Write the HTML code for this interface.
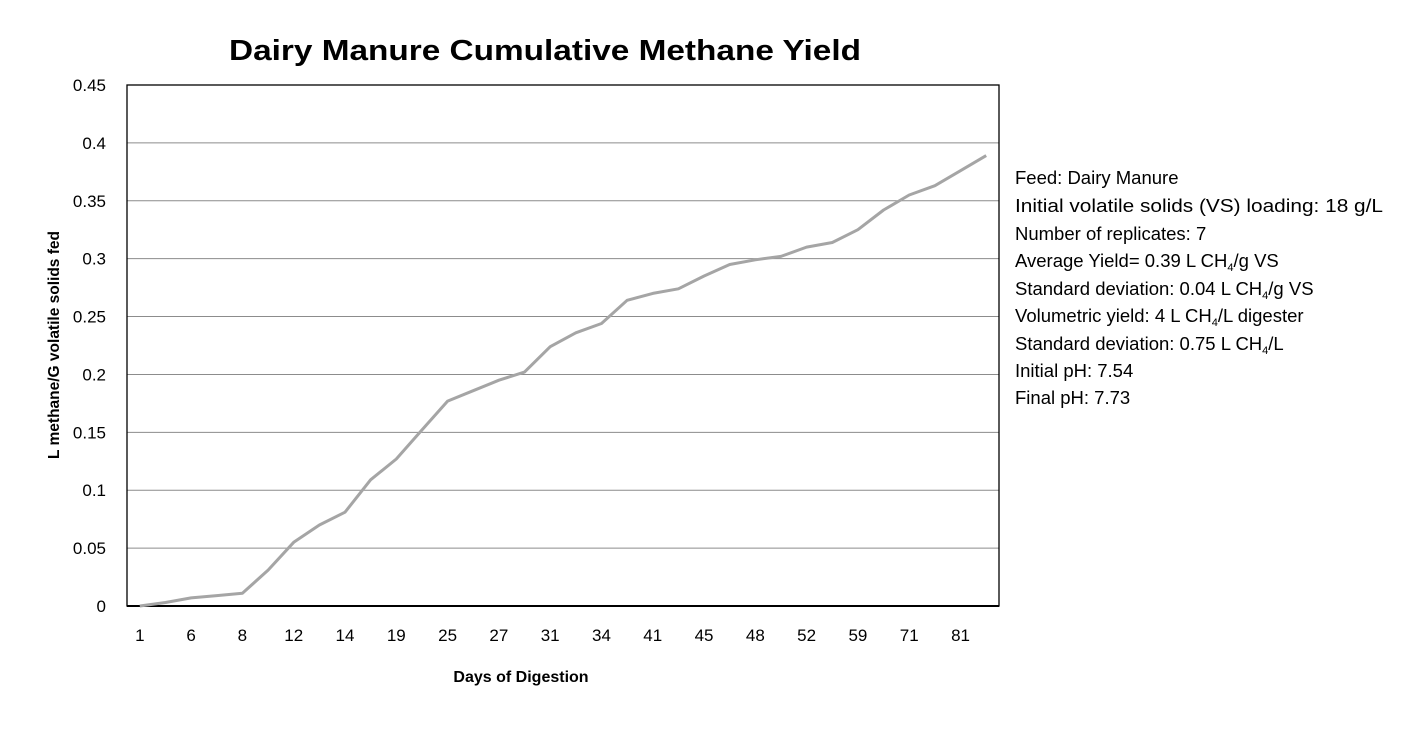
<!DOCTYPE html>
<html><head><meta charset="utf-8"><style>
html,body{margin:0;padding:0;background:#fff;}
svg{display:block;font-family:"Liberation Sans",Arial,sans-serif;}
</style></head><body>
<svg id="chart" width="1410" height="743" viewBox="0 0 1410 743" xmlns="http://www.w3.org/2000/svg">
<rect width="1410" height="743" fill="#fff"/>
<text x="545" y="60" text-anchor="middle" font-size="29" font-weight="bold" fill="#000" textLength="632" lengthAdjust="spacingAndGlyphs">Dairy Manure Cumulative Methane Yield</text>
<g id="grid"></g>
<g id="yticks"></g>
<g id="xticks"></g>
<g id="series"></g>
<text transform="translate(59,345) rotate(-90)" text-anchor="middle" font-size="15.5" font-weight="bold" fill="#000">L methane/G volatile solids fed</text>
<text x="521" y="682" text-anchor="middle" font-size="16" font-weight="bold" fill="#000">Days of Digestion</text>
<g font-size="18.5" fill="#000">
<text x="1015" y="184">Feed: Dairy Manure</text>
<text x="1015" y="212" textLength="368" lengthAdjust="spacingAndGlyphs">Initial volatile solids (VS) loading: 18 g/L</text>
<text x="1015" y="240">Number of replicates: 7</text>
<text x="1015" y="267">Average Yield= 0.39 L CH<tspan font-size="11" dy="4">4</tspan><tspan dy="-4">/g VS</tspan></text>
<text x="1015" y="295">Standard deviation: 0.04 L CH<tspan font-size="11" dy="4">4</tspan><tspan dy="-4">/g VS</tspan></text>
<text x="1015" y="322">Volumetric yield: 4 L CH<tspan font-size="11" dy="4">4</tspan><tspan dy="-4">/L digester</tspan></text>
<text x="1015" y="350">Standard deviation: 0.75 L CH<tspan font-size="11" dy="4">4</tspan><tspan dy="-4">/L</tspan></text>
<text x="1015" y="377">Initial pH: 7.54</text>
<text x="1015" y="404">Final pH: 7.73</text>
</g>
</svg>
<script>
const categories = [1,4,6,7,8,10,12,13,14,17,19,22,25,26,27,29,31,33,34,38,41,43,45,47,48,50,52,55,59,64,71,76,81,86];
const yieldValues = [0,0.003,0.007,0.009,0.011,0.031,0.055,0.070,0.081,0.109,0.127,0.152,0.177,0.186,0.195,0.202,0.224,0.236,0.244,0.264,0.270,0.274,0.285,0.295,0.299,0.302,0.310,0.314,0.325,0.342,0.355,0.363,0.376,0.389];
const yTickValues = [0,0.05,0.1,0.15,0.2,0.25,0.3,0.35,0.4,0.45];
const yTickLabels = ["0","0.05","0.1","0.15","0.2","0.25","0.3","0.35","0.4","0.45"];

const NS = "http://www.w3.org/2000/svg";
const L = 127, R = 999, T = 85, B = 606, yMax = 0.45;
const band = (R - L) / categories.length;
function xPos(i){ return L + band * (i + 0.5); }
function yPos(v){ return B - (v / yMax) * (B - T); }
function mk(tag, attrs, parent){ const e = document.createElementNS(NS, tag); for (const k in attrs) e.setAttribute(k, attrs[k]); parent.appendChild(e); return e; }

const grid = document.getElementById('grid');
const yt = document.getElementById('yticks');
yTickValues.forEach((v, i) => {
  const y = yPos(v);
  if (v > 0) {
    const g = mk('line', {x1: L, x2: R, y1: y, y2: y, stroke: '#8c8c8c', 'stroke-width': 1}, grid);
    
    
  }
  const t = mk('text', {x: 106, y: y + 6, 'text-anchor': 'end', 'font-size': 17, fill: '#000'}, yt);
  t.textContent = yTickLabels[i];
  
  
});
const frame = mk('rect', {x: L, y: T, width: R - L, height: B - T, fill: 'none', stroke: '#000', 'stroke-width': 1.3}, grid);


const xaxis = mk('line', {x1: L, x2: R, y1: B, y2: B, stroke: '#000', 'stroke-width': 2}, grid);



const xt = document.getElementById('xticks');
categories.forEach((c, i) => {
  if (i % 2 !== 0) return;
  const t = mk('text', {x: xPos(i), y: 641, 'text-anchor': 'middle', 'font-size': 17, fill: '#000'}, xt);
  t.textContent = c;
  
  
});

const s = document.getElementById('series');
const pts = yieldValues.map((v, i) => xPos(i).toFixed(1) + ',' + yPos(v).toFixed(1)).join(' ');
const line = mk('polyline', {points: pts, fill: 'none', stroke: '#a5a5a5', 'stroke-width': 3, 'stroke-linejoin': 'round'}, s);


</script>
</body></html>
